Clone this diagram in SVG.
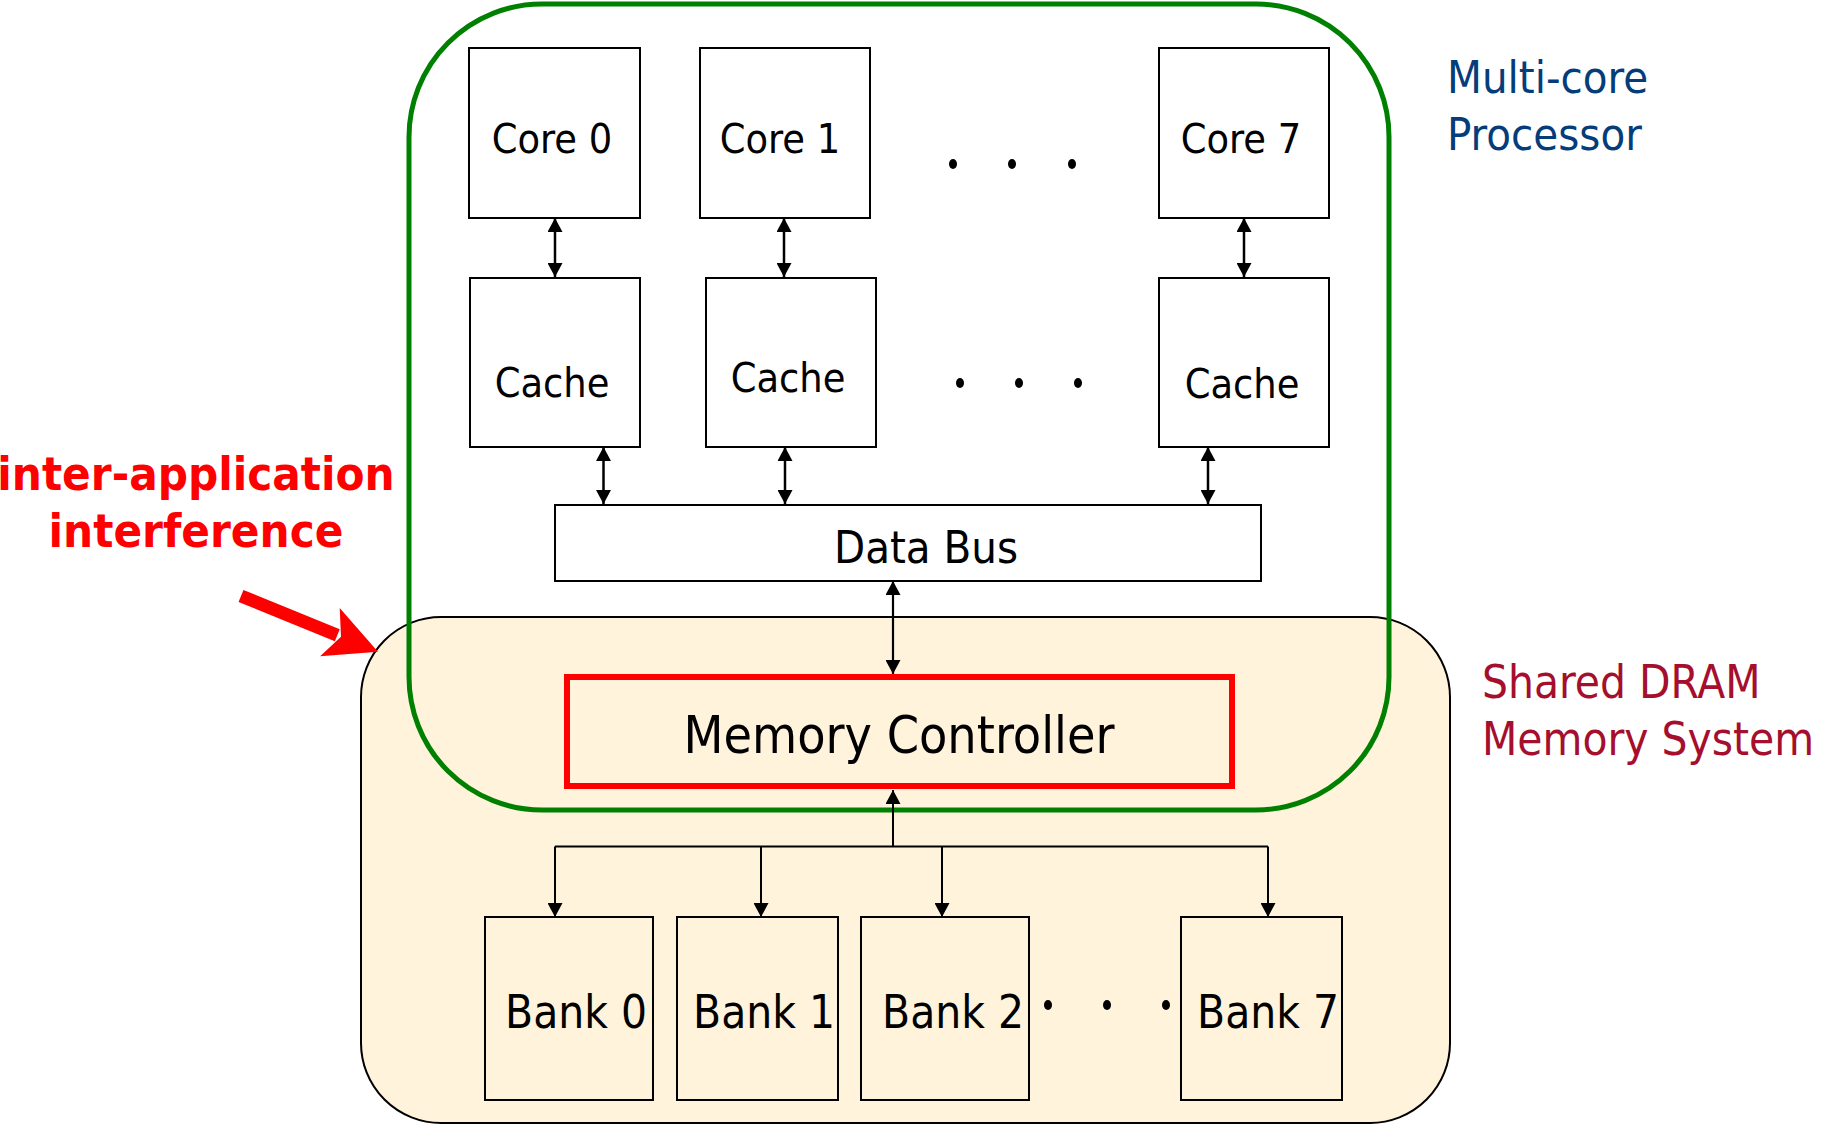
<svg xmlns="http://www.w3.org/2000/svg" width="1821" height="1125" viewBox="0 0 1821 1125">
<style>
.box{fill:#fff;stroke:#000;stroke-width:2}
.bank{fill:#FFF3DC;stroke:#000;stroke-width:2}
.lbl{font-family:"DejaVu Sans Condensed","DejaVu Sans",sans-serif;fill:#000;text-anchor:middle}
.c{stroke:#000;fill:none}
.dot{fill:#000}
</style>
<defs>
<marker id="ah" viewBox="0 0 14 15" refX="14" refY="7.5" markerWidth="14" markerHeight="15" markerUnits="userSpaceOnUse" orient="auto-start-reverse">
<path d="M0,0 L14,7.5 L0,15 z" fill="#000"/>
</marker>
</defs>
<rect width="1821" height="1125" fill="#fff"/>

<g id="dram-system">
<rect x="361" y="617" width="1089" height="506" rx="80" ry="80" fill="#FFF3DC" stroke="#000" stroke-width="2"/>
</g>
<g id="processor">
<rect x="409" y="4" width="980" height="806" rx="133" ry="133" fill="none" stroke="#008000" stroke-width="5"/>
</g>

<g id="core0"><rect class="box" x="469" y="48" width="171" height="170"/><text class="lbl" x="552" y="153" font-size="41">Core 0</text></g>
<g id="core1"><rect class="box" x="700" y="48" width="170" height="170"/><text class="lbl" x="780" y="153" font-size="41">Core 1</text></g>
<g id="core7"><rect class="box" x="1159" y="48" width="170" height="170"/><text class="lbl" x="1241" y="153" font-size="41">Core 7</text></g>

<g id="cache0"><rect class="box" x="470" y="278" width="170" height="169"/><text class="lbl" x="552" y="397" font-size="41">Cache</text></g>
<g id="cache1"><rect class="box" x="706" y="278" width="170" height="169"/><text class="lbl" x="788" y="392" font-size="41">Cache</text></g>
<g id="cache7"><rect class="box" x="1159" y="278" width="170" height="169"/><text class="lbl" x="1242" y="398" font-size="41">Cache</text></g>

<g id="data-bus"><rect class="box" x="555" y="505" width="706" height="76"/><text class="lbl" x="926" y="563" font-size="45">Data Bus</text></g>

<g id="memory-controller"><rect x="567" y="677" width="665" height="109" fill="none" stroke="#FF0000" stroke-width="6"/><text class="lbl" x="899" y="753" font-size="51.5">Memory Controller</text></g>

<g id="bank0"><rect class="bank" x="485" y="917" width="168" height="183"/><text class="lbl" x="576" y="1028" font-size="45.5">Bank 0</text></g>
<g id="bank1"><rect class="bank" x="677" y="917" width="161" height="183"/><text class="lbl" x="764" y="1028" font-size="45.5">Bank 1</text></g>
<g id="bank2"><rect class="bank" x="861" y="917" width="168" height="183"/><text class="lbl" x="953" y="1028" font-size="45.5">Bank 2</text></g>
<g id="bank7"><rect class="bank" x="1181" y="917" width="161" height="183"/><text class="lbl" x="1268" y="1028" font-size="45.5">Bank 7</text></g>

<g id="ellipses">
<ellipse class="dot" cx="953" cy="164" rx="4" ry="5"/><ellipse class="dot" cx="1012" cy="164" rx="4" ry="5"/><ellipse class="dot" cx="1072" cy="164" rx="4" ry="5"/>
<ellipse class="dot" cx="960" cy="383" rx="4" ry="5"/><ellipse class="dot" cx="1019" cy="383" rx="4" ry="5"/><ellipse class="dot" cx="1078" cy="383" rx="4" ry="5"/>
<ellipse class="dot" cx="1048" cy="1005" rx="4" ry="5"/><ellipse class="dot" cx="1107" cy="1005" rx="4" ry="5"/><ellipse class="dot" cx="1166" cy="1005" rx="4" ry="5"/>
</g>

<g id="connectors">
<line class="c" stroke-width="2.5" x1="555" y1="218" x2="555" y2="277" marker-start="url(#ah)" marker-end="url(#ah)"/>
<line class="c" stroke-width="2.5" x1="784" y1="218" x2="784" y2="277" marker-start="url(#ah)" marker-end="url(#ah)"/>
<line class="c" stroke-width="2.5" x1="1244" y1="218" x2="1244" y2="277" marker-start="url(#ah)" marker-end="url(#ah)"/>
<line class="c" stroke-width="2.5" x1="603.5" y1="447" x2="603.5" y2="504" marker-start="url(#ah)" marker-end="url(#ah)"/>
<line class="c" stroke-width="2.5" x1="785" y1="447" x2="785" y2="504" marker-start="url(#ah)" marker-end="url(#ah)"/>
<line class="c" stroke-width="2.5" x1="1208" y1="447" x2="1208" y2="504" marker-start="url(#ah)" marker-end="url(#ah)"/>
<line class="c" stroke-width="2.2" x1="893" y1="581" x2="893" y2="674" marker-start="url(#ah)" marker-end="url(#ah)"/>
<line class="c" stroke-width="2" x1="893" y1="846.5" x2="893" y2="790" marker-end="url(#ah)"/>
<line class="c" stroke-width="2" x1="555" y1="846.5" x2="1268" y2="846.5"/>
<line class="c" stroke-width="2" x1="555" y1="846.5" x2="555" y2="917" marker-end="url(#ah)"/>
<line class="c" stroke-width="2" x1="761" y1="846.5" x2="761" y2="917" marker-end="url(#ah)"/>
<line class="c" stroke-width="2" x1="942" y1="846.5" x2="942" y2="917" marker-end="url(#ah)"/>
<line class="c" stroke-width="2" x1="1268" y1="846.5" x2="1268" y2="917" marker-end="url(#ah)"/>
</g>

<g id="interference-arrow">
<line x1="241" y1="596" x2="337.3" y2="635.2" stroke="#FF0000" stroke-width="13"/>
<polygon points="378,651.8 339.7,608.1 341,636.7 320.1,656.3" fill="#FF0000"/>
</g>

<g id="labels">
<text x="1447" y="93" font-family="'DejaVu Sans Condensed','DejaVu Sans',sans-serif" font-size="45" fill="#053D7A">Multi-core</text>
<text x="1447" y="150" font-family="'DejaVu Sans Condensed','DejaVu Sans',sans-serif" font-size="45" fill="#053D7A">Processor</text>
<text x="1482" y="698" font-family="'DejaVu Sans Condensed','DejaVu Sans',sans-serif" font-size="45.5" fill="#A50F2D">Shared DRAM</text>
<text x="1482" y="755" font-family="'DejaVu Sans Condensed','DejaVu Sans',sans-serif" font-size="45.5" fill="#A50F2D">Memory System</text>
<text x="196" y="490" font-family="'DejaVu Sans Condensed','DejaVu Sans',sans-serif" font-size="47" font-weight="bold" fill="#FF0000" text-anchor="middle">inter-application</text>
<text x="196" y="547" font-family="'DejaVu Sans Condensed','DejaVu Sans',sans-serif" font-size="47" font-weight="bold" fill="#FF0000" text-anchor="middle">interference</text>
</g>
</svg>
